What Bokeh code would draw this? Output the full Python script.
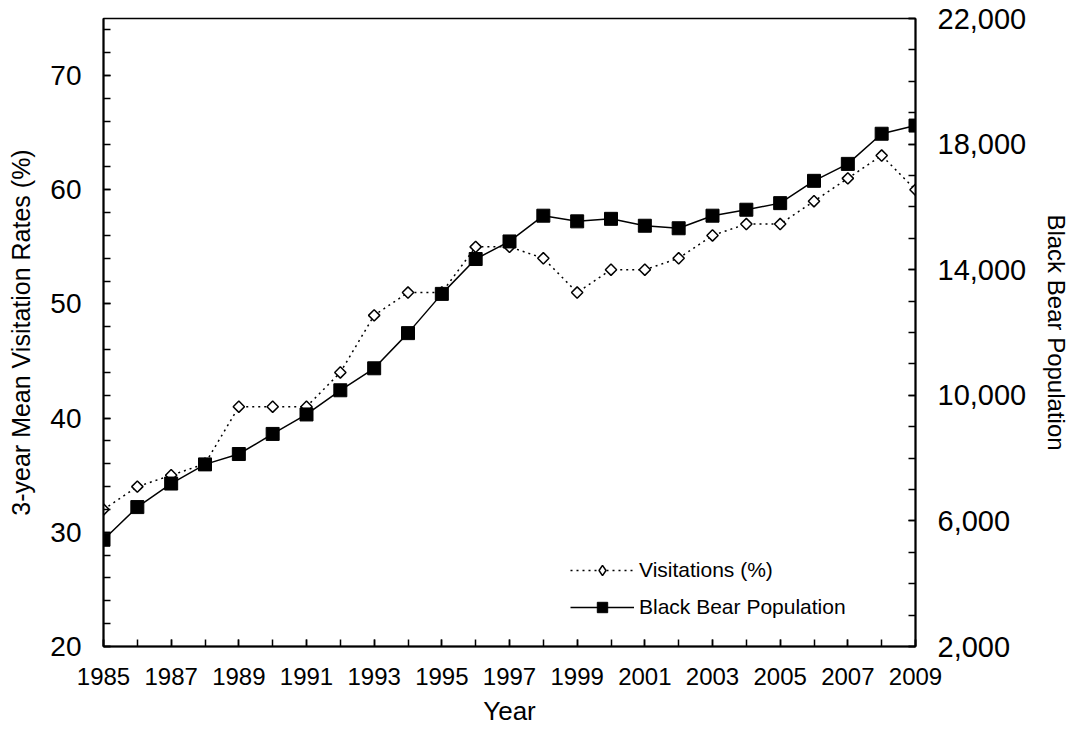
import math
from bokeh.plotting import figure
from bokeh.models import (Range1d, LinearAxis, FixedTicker, NumeralTickFormatter,
                          Legend, LegendItem, ColumnDataSource)
from bokeh.embed import file_html
from bokeh.resources import INLINE

years = list(range(1985, 2010))
visitations = [32, 34, 35, 36, 41, 41, 41, 44, 49, 51, 51, 55, 55, 54, 51, 53, 53, 54, 56, 57, 57, 59, 61, 63, 60]
bear_population = [5400, 6440, 7190, 7800, 8130, 8770, 9390, 10160, 10860, 11980, 13230, 14340, 14900,
                   15720, 15540, 15620, 15400, 15320, 15720, 15910, 16120, 16830, 17370, 18330, 18590]

x_major = list(range(1985, 2010, 2))
x_minor = list(range(1985, 2010, 1))
left_major = [20, 30, 40, 50, 60, 70]
left_minor = list(range(20, 76, 2))
right_major = [2000, 6000, 10000, 14000, 18000, 22000]
right_minor = list(range(2000, 22001, 1000))

FONT = "Liberation Sans"

src = ColumnDataSource(dict(year=years, vis=visitations, bear=bear_population))

p = figure(width=1073, height=730, output_backend="svg", toolbar_location=None,
           x_range=Range1d(1985, 2009), y_range=Range1d(20, 75),
           min_border_left=103, min_border_right=149, min_border_top=18, min_border_bottom=84,
           x_axis_label="Year", y_axis_label="3-year Mean Visitation Rates (%)")
p.extra_y_ranges = {"bear": Range1d(2000, 22000)}
p.grid.visible = False
p.outline_line_color = "black"
p.outline_line_width = 1.5
p.background_fill_color = "white"
p.border_fill_color = "white"

right_axis = LinearAxis(y_range_name="bear", axis_label="Black Bear Population")
p.add_layout(right_axis, "right")

p.xaxis.ticker = FixedTicker(ticks=x_major, minor_ticks=x_minor)
p.yaxis[0].ticker = FixedTicker(ticks=left_major, minor_ticks=left_minor)
right_axis.ticker = FixedTicker(ticks=right_major, minor_ticks=right_minor)
right_axis.formatter = NumeralTickFormatter(format="0,0")

for ax in [p.xaxis[0], p.yaxis[0], right_axis]:
    ax.axis_line_color = "black"
    ax.axis_line_width = 2
    ax.major_tick_in = 7
    ax.major_tick_out = 0
    ax.minor_tick_in = 7
    ax.minor_tick_out = 0
    ax.major_tick_line_width = 1.5
    ax.minor_tick_line_width = 1.5
    ax.major_tick_line_color = "black"
    ax.minor_tick_line_color = "black"
    ax.major_label_text_font = FONT
    ax.major_label_text_color = "black"
    ax.axis_label_text_font = FONT
    ax.axis_label_text_font_style = "normal"
    ax.axis_label_text_color = "black"

p.xaxis.major_label_text_font_size = "24px"
p.xaxis.major_label_standoff = 21
p.xaxis.axis_label_text_font_size = "26px"
p.xaxis.axis_label_standoff = 8

p.yaxis[0].major_label_text_font_size = "28px"
p.yaxis[0].major_label_standoff = 22
p.yaxis[0].axis_label_text_font_size = "25px"
p.yaxis[0].axis_label_standoff = 12

right_axis.major_label_text_font_size = "29px"
right_axis.major_label_standoff = 22
right_axis.axis_label_text_font_size = "24px"
right_axis.axis_label_standoff = 14

v_line = p.line("year", "vis", source=src, line_color="black", line_width=1.5, line_dash="2 4")
v_pts = p.scatter("year", "vis", source=src, marker="square", angle=math.pi / 4, size=8,
                  line_color="black", line_width=1.5, fill_color="white")
# legend-only diamond: zero size on the plot, the legend draws it at its own size
v_leg = p.scatter("year", "vis", source=src, marker="diamond", size=0,
                  line_color="black", line_width=1.5, fill_color="white")
b_line = p.line("year", "bear", source=src, y_range_name="bear", line_color="black", line_width=1.5)
b_pts = p.scatter("year", "bear", source=src, y_range_name="bear", marker="square", size=13,
                  line_color="black", fill_color="black")

legend = Legend(items=[LegendItem(label="Visitations (%)", renderers=[v_line, v_leg]),
                       LegendItem(label="Black Bear Population", renderers=[b_line, b_pts])],
                location=(467, 26), padding=0, margin=0, spacing=11,
                glyph_width=64, glyph_height=26, label_height=20, label_standoff=5,
                label_text_font=FONT, label_text_font_size="21px", label_text_color="black",
                background_fill_alpha=0, border_line_alpha=0)
p.add_layout(legend, "center")

open("out.html", "w").write(file_html(p, INLINE))
